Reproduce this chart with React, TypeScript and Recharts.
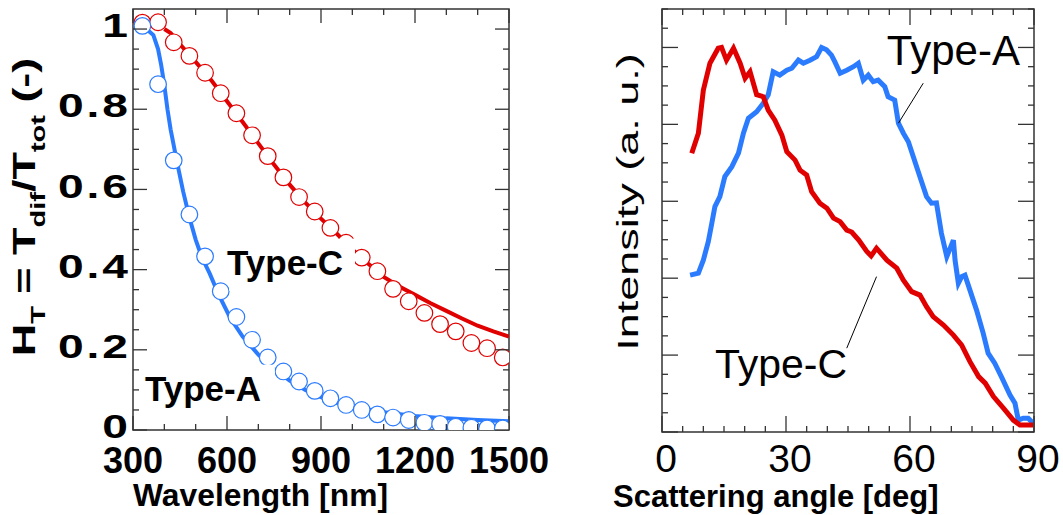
import React from 'react';
import { ComposedChart, Line, XAxis, YAxis, ReferenceArea, ReferenceDot, ReferenceLine, Label } from 'recharts';

const FONT = "'Liberation Sans', Arial, Helvetica, sans-serif";
const RED = '#e00000';
const BLUE = '#2b7bff';
const AXIS = '#333333';

// ---- left panel: haze vs wavelength ----
const circleWavelength = [330, 380, 430, 480, 530, 580, 630, 680, 730, 780, 830, 880, 930, 980, 1030, 1080, 1130, 1180, 1230, 1280, 1330, 1380, 1430, 1480];
const typeCHaze = [1.016, 1.017, 0.967, 0.933, 0.891, 0.84, 0.79, 0.735, 0.683, 0.63, 0.581, 0.545, 0.504, 0.467, 0.43, 0.396, 0.352, 0.321, 0.292, 0.264, 0.246, 0.217, 0.204, 0.181];
const typeAHaze = [1.008, 0.8625, 0.6725, 0.5375, 0.433, 0.346, 0.282, 0.225, 0.181, 0.146, 0.121, 0.0975, 0.079, 0.0625, 0.05, 0.039, 0.031, 0.025, 0.018, 0.015, 0.008, 0.006, 0.004, 0.004];

const typeCLineWl = [400, 420, 450, 500, 550, 600, 650, 700, 750, 800, 850, 900, 950, 1000, 1050, 1100, 1150, 1200, 1250, 1300, 1350, 1400, 1450, 1500];
const typeCLineH = [1.0, 0.99, 0.962, 0.918, 0.872, 0.82, 0.768, 0.715, 0.662, 0.612, 0.567, 0.527, 0.49, 0.45, 0.415, 0.382, 0.358, 0.337, 0.316, 0.297, 0.278, 0.26, 0.246, 0.233];

const typeALineWl = [335, 350, 365, 380, 390, 400, 410, 420, 440, 460, 480, 500, 520, 545, 575, 610, 650, 700, 750, 800, 850, 900, 950, 1000, 1100, 1200, 1300, 1400, 1500];
const typeALineH = [1.0, 0.995, 0.985, 0.95, 0.91, 0.86, 0.8, 0.75, 0.67, 0.595, 0.53, 0.475, 0.43, 0.39, 0.335, 0.28, 0.233, 0.188, 0.152, 0.123, 0.1, 0.082, 0.068, 0.058, 0.044, 0.035, 0.029, 0.025, 0.022];

const wlMajorTicks = [300, 600, 900, 1200, 1500];
const hazeMajorTicks = [0, 0.2, 0.4, 0.6, 0.8, 1];

// ---- right panel: intensity vs scattering angle ----
const typeCAngle = [7.2, 8.8, 10.0, 11.6, 13.6, 14.4, 15.6, 17.3, 18.9, 20.1, 21.3, 22.9, 24.5, 25.7, 27.3, 29.0, 30.2, 32.2, 33.4, 35.0, 36.2, 38.2, 39.9, 41.5, 43.1, 44.7, 45.9, 47.6, 49.5, 50.6, 51.9, 54.4, 56.8, 58.4, 60.4, 62.4, 64.0, 65.6, 68.1, 70.5, 72.5, 74.5, 76.6, 78.2, 80.2, 82.6, 85.0, 86.6, 89.8];
const typeCIntensity = [0.725, 0.777, 0.889, 0.959, 0.998, 1.0, 0.967, 0.998, 0.959, 0.92, 0.937, 0.877, 0.872, 0.837, 0.811, 0.772, 0.729, 0.707, 0.681, 0.668, 0.625, 0.595, 0.582, 0.556, 0.547, 0.525, 0.52, 0.499, 0.47, 0.458, 0.478, 0.447, 0.426, 0.395, 0.365, 0.356, 0.326, 0.3, 0.278, 0.252, 0.226, 0.183, 0.144, 0.127, 0.092, 0.062, 0.031, 0.018, 0.018];

const typeAAngle = [6.8, 8.8, 10.0, 11.2, 12.0, 12.8, 14.0, 15.2, 16.9, 18.5, 19.7, 20.9, 22.9, 24.5, 25.7, 26.9, 28.5, 30.2, 31.4, 33.0, 34.2, 35.8, 37.4, 38.6, 39.8, 41.0, 41.8, 43.1, 44.7, 46.3, 47.5, 48.7, 49.9, 51.1, 52.3, 53.9, 54.7, 56.3, 57.2, 58.4, 59.6, 60.8, 62.4, 64.0, 65.2, 66.4, 67.6, 68.9, 70.5, 70.9, 71.7, 72.5, 73.3, 74.5, 76.1, 77.7, 78.9, 80.5, 82.1, 84.2, 85.4, 86.2, 87.4, 88.6, 89.8];
const typeAIntensity = [0.408, 0.413, 0.447, 0.495, 0.54, 0.586, 0.612, 0.664, 0.69, 0.725, 0.777, 0.816, 0.833, 0.855, 0.877, 0.937, 0.928, 0.941, 0.946, 0.967, 0.959, 0.967, 0.976, 1.0, 0.994, 0.98, 0.963, 0.933, 0.941, 0.95, 0.959, 0.915, 0.928, 0.911, 0.915, 0.898, 0.872, 0.863, 0.803, 0.777, 0.755, 0.716, 0.664, 0.612, 0.595, 0.596, 0.517, 0.456, 0.499, 0.447, 0.387, 0.404, 0.408, 0.369, 0.317, 0.257, 0.205, 0.179, 0.144, 0.096, 0.075, 0.031, 0.036, 0.036, 0.023];

const angleMajorTicks = [0, 30, 60, 90];

const zip = (xs: number[], ys: number[]) => xs.map((x, i) => ({ x, y: ys[i] }));
const range = (a: number, b: number, step: number) => {
  const out: number[] = [];
  for (let i = 0; a + i * step <= b + 1e-9; i++) out.push(+(a + i * step).toFixed(4));
  return out;
};
const isIn = (v: number, list: number[]) => list.some((m) => Math.abs(m - v) < 1e-6);

// layout (plot frames in page pixels)
const L = { w: 560, h: 515, left: 133, right: 509, top: 9, bottom: 430 };
const R = { x0: 560, w: 503, h: 515, left: 662, right: 1034, top: 9, bottom: 432 };
const MAJOR = 14;
const MINOR = 6;

const LeftXTick = (props: any) => {
  const { x, payload } = props;
  const y = L.bottom;
  const major = isIn(payload.value, wlMajorTicks);
  const len = major ? MAJOR : MINOR;
  return (
    <g>
      <line x1={x} x2={x} y1={y} y2={y - len} stroke={AXIS} strokeWidth={1.3} />
      <line x1={x} x2={x} y1={L.top} y2={L.top + len} stroke={AXIS} strokeWidth={1.3} />
      {major && (
        <text x={x} y={y + 30} textAnchor="middle" dominantBaseline="central" fontFamily={FONT} fontWeight="bold" fontSize={36} fill="#000">
          {payload.value}
        </text>
      )}
    </g>
  );
};

const LeftYTick = (props: any) => {
  const { y, payload } = props;
  const x = L.left;
  const v = payload.value;
  const major = isIn(v, hazeMajorTicks);
  const len = major ? MAJOR : MINOR;
  const text = v === 0 ? '0' : v === 1 ? '1' : v.toFixed(1);
  const wide = text.length > 1;
  return (
    <g>
      <line x1={x} x2={x + len} y1={y} y2={y} stroke={AXIS} strokeWidth={1.3} />
      <line x1={L.right} x2={L.right - len} y1={y} y2={y} stroke={AXIS} strokeWidth={1.3} />
      {major && (
        <g transform={`translate(${x - 5},${y - 3}) scale(1.4,1)`}>
          <text
            x={0}
            y={0}
            textAnchor="end"
            dominantBaseline="central"
            fontFamily={FONT}
            fontWeight="bold"
            fontSize={33}
            fill="#000"
            textLength={wide ? 50 : undefined}
            lengthAdjust="spacing"
          >
            {text}
          </text>
        </g>
      )}
    </g>
  );
};

const RightXTick = (props: any) => {
  const { x, payload } = props;
  const y = R.bottom;
  const major = isIn(payload.value, angleMajorTicks);
  const len = major ? 16 : MINOR;
  return (
    <g>
      <line x1={x} x2={x} y1={y} y2={y - len} stroke={AXIS} strokeWidth={1.3} />
      <line x1={x} x2={x} y1={R.top} y2={R.top + len} stroke={AXIS} strokeWidth={1.3} />
      {major && (
        <text x={x + 4} y={y + 26} textAnchor="middle" dominantBaseline="central" fontFamily={FONT} fontSize={39} fill="#000">
          {payload.value}
        </text>
      )}
    </g>
  );
};

const RightYTick = (props: any) => {
  const { y, payload } = props;
  const x = R.left - R.x0;
  const v = payload.value;
  const major = Math.abs(v * 5 - Math.round(v * 5)) < 1e-6;
  const len = major ? 16 : MINOR;
  return (
    <g>
      <line x1={x} x2={x + len} y1={y} y2={y} stroke={AXIS} strokeWidth={1.3} />
      <line x1={R.right - R.x0} x2={R.right - R.x0 - len} y1={y} y2={y} stroke={AXIS} strokeWidth={1.3} />
    </g>
  );
};

const hollowDot = (color: string) => (p: any) => (
  <circle key={`d-${p.index}`} cx={p.cx} cy={p.cy} r={8.3} fill="#ffffff" stroke={color} strokeWidth={1.2} />
);

const boxedLabel = (text: string, boxW: number, dxBox: number) => (p: any) => (
  <g>
    <rect x={p.cx + dxBox} y={p.cy - 36} width={boxW} height={52} fill="#ffffff" />
    <text x={p.cx} y={p.cy} fontFamily={FONT} fontWeight="bold" fontSize={35} fill="#000">
      {text}
    </text>
  </g>
);

const plainLabel = (text: string, size: number) => (p: any) => (
  <text x={p.cx} y={p.cy} fontFamily={FONT} fontSize={size} fill="#000">
    {text}
  </text>
);

const LeftPanel = () => (
  <ComposedChart width={L.w} height={L.h} margin={{ top: L.top, right: L.w - L.right, bottom: L.h - L.bottom - 1, left: L.left - 1 }}>
    <XAxis type="number" dataKey="x" domain={[300, 1500]} ticks={range(300, 1500, 100)} interval={0} tickSize={0} tickMargin={0} height={1} tick={<LeftXTick />} axisLine={false} allowDataOverflow>
      <Label
        content={() => (
          <text x={133} y={506} fontFamily={FONT} fontWeight="bold" fontSize={31} fill="#000" textLength={255} lengthAdjust="spacingAndGlyphs">
            Wavelength [nm]
          </text>
        )}
      />
    </XAxis>
    <YAxis type="number" dataKey="y" domain={[0, 1.05]} ticks={range(0, 1, 0.05)} interval={0} tickSize={0} tickMargin={0} width={1} tick={<LeftYTick />} axisLine={false} allowDataOverflow>
      <Label
        content={() => (
          <g transform="translate(35,207) rotate(-90) scale(1.45,1)">
            <text x={0} y={0} textAnchor="middle" fontFamily={FONT} fontWeight="bold" fontSize={31} fill="#000">
              H<tspan fontSize={20} dy={10}>T</tspan>
              <tspan dy={-10}> = T</tspan>
              <tspan fontSize={20} dy={10}>dif</tspan>
              <tspan dy={-10}>/T</tspan>
              <tspan fontSize={20} dy={10}>tot</tspan>
              <tspan dy={-10}> (-)</tspan>
            </text>
          </g>
        )}
      />
    </YAxis>
    <ReferenceArea x1={300} x2={1500} y1={0} y2={1.05} fill="none" stroke={AXIS} strokeWidth={1.5} ifOverflow="visible" />
    <Line data={zip(typeCLineWl, typeCLineH)} dataKey="y" stroke={RED} strokeWidth={4} dot={false} activeDot={false} isAnimationActive={false} />
    <Line data={zip(typeALineWl, typeALineH)} dataKey="y" stroke={BLUE} strokeWidth={4} dot={false} activeDot={false} isAnimationActive={false} />
    <Line data={zip(circleWavelength, typeCHaze)} dataKey="y" stroke="none" dot={hollowDot(RED)} activeDot={false} isAnimationActive={false} />
    <Line data={zip(circleWavelength, typeAHaze)} dataKey="y" stroke="none" dot={hollowDot(BLUE)} activeDot={false} isAnimationActive={false} />
    <ReferenceDot x={600} y={0.3875} r={0} ifOverflow="visible" shape={boxedLabel('Type-C', 126, 2)} />
    <ReferenceDot x={338} y={0.073} r={0} ifOverflow="visible" shape={boxedLabel('Type-A', 132, -2)} />
  </ComposedChart>
);

const RightPanel = () => (
  <ComposedChart width={R.w} height={R.h} margin={{ top: R.top, right: R.x0 + R.w - R.right, bottom: R.h - R.bottom - 1, left: R.left - R.x0 - 1 }}>
    <XAxis type="number" dataKey="x" domain={[0, 90]} ticks={range(0, 90, 5)} interval={0} tickSize={0} tickMargin={0} height={1} tick={<RightXTick />} axisLine={false} allowDataOverflow>
      <Label
        content={() => (
          <text x={613 - R.x0} y={507} fontFamily={FONT} fontWeight="bold" fontSize={31} fill="#000">
            Scattering angle [deg]
          </text>
        )}
      />
    </XAxis>
    <YAxis type="number" dataKey="y" domain={[0, 1.1]} ticks={range(0, 1.1, 0.05)} interval={0} tickSize={0} tickMargin={0} width={1} tick={<RightYTick />} axisLine={false} allowDataOverflow>
      <Label
        content={() => (
          <g transform={`translate(${638 - R.x0},202) rotate(-90) scale(1.5,1)`}>
            <text x={0} y={0} textAnchor="middle" fontFamily={FONT} fontSize={30} fill="#000">
              Intensity (a. u.)
            </text>
          </g>
        )}
      />
    </YAxis>
    <ReferenceArea x1={0} x2={90} y1={0} y2={1.1} fill="none" stroke={AXIS} strokeWidth={1.5} ifOverflow="visible" />
    <Line data={zip(typeAAngle, typeAIntensity)} dataKey="y" stroke={BLUE} strokeWidth={5} dot={false} activeDot={false} isAnimationActive={false} />
    <Line data={zip(typeCAngle, typeCIntensity)} dataKey="y" stroke={RED} strokeWidth={5} dot={false} activeDot={false} isAnimationActive={false} />
    <ReferenceLine segment={[{ x: 63.2, y: 0.907 }, { x: 57.2, y: 0.803 }]} stroke="#000" strokeWidth={1} />
    <ReferenceLine segment={[{ x: 44.7, y: 0.218 }, { x: 51.9, y: 0.404 }]} stroke="#000" strokeWidth={1} />
    <ReferenceDot x={54.4} y={0.954} r={0} ifOverflow="visible" shape={plainLabel('Type-A', 42)} />
    <ReferenceDot x={12.8} y={0.14} r={0} ifOverflow="visible" shape={plainLabel('Type-C', 41)} />
  </ComposedChart>
);

export default function App() {
  return (
    <div style={{ position: 'absolute', left: 0, top: 0, width: 1063, height: 515, background: '#fff', display: 'flex' }}>
      <LeftPanel />
      <RightPanel />
    </div>
  );
}
